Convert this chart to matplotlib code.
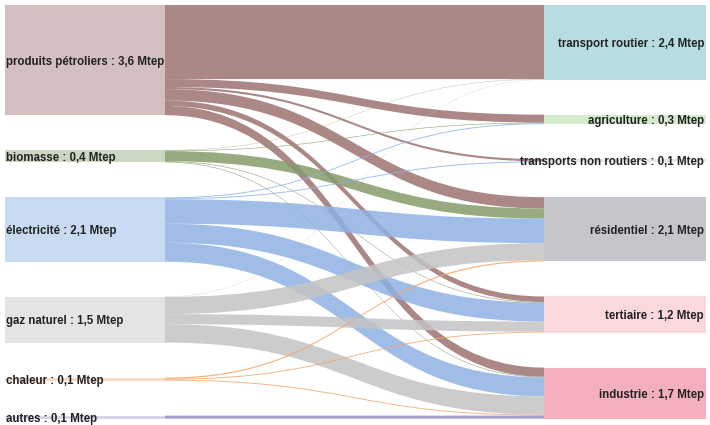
import matplotlib.pyplot as plt
import numpy as np
from matplotlib.path import Path
from matplotlib.patches import PathPatch, Rectangle

sources = ['produits pétroliers', 'biomasse', 'électricité', 'gaz naturel', 'chaleur', 'autres']
source_values = ['3,6', '0,4', '2,1', '1,5', '0,1', '0,1']
targets = ['transport routier', 'agriculture', 'transports non routiers',
           'résidentiel', 'tertiaire', 'industrie']
target_values = ['2,4', '0,3', '0,1', '2,1', '1,2', '1,7']

# flows in Mtep, one list per source, ordered like targets
petrole = [2.42, 0.26, 0.07, 0.37, 0.18, 0.30]
biomasse = [0.01, 0.02, 0.0, 0.33, 0.02, 0.02]
electricite = [0.0, 0.03, 0.03, 0.80, 0.62, 0.62]
gaz = [0.01, 0.0, 0.0, 0.56, 0.33, 0.60]
chaleur = [0.0, 0.0, 0.0, 0.04, 0.03, 0.03]
autres = [0.0, 0.0, 0.0, 0.0, 0.0, 0.10]
flows = np.array([petrole, biomasse, electricite, gaz, chaleur, autres])

src_node_colors = ['#d3bfbf', '#ccd7c3', '#c9dbf2', '#e4e4e4', '#f9dcc6', '#dcd5ea']
link_colors = ['#9c7271', '#869b6a', '#8eb2e2', '#c4c4c4', '#f3a66e', '#9a8cc2']
tgt_node_colors = ['#b7dde3', '#d5ebcd', '#e6e6e6', '#c8c4cb', '#fad8dc', '#f4afbd']

# layout (x in pixels, y in Mtep)
k = 30.6  # px per Mtep
gap = 35 / k
top = 5 / k
xl0, xl1 = 5, 165
xr0, xr1 = 544, 706

src_tot = flows.sum(axis=1)
tgt_tot = flows.sum(axis=0)
src_y = top + np.concatenate([[0], np.cumsum(src_tot + gap)[:-1]])
tgt_y = top + np.concatenate([[0], np.cumsum(tgt_tot + gap)[:-1]])

fig = plt.figure(figsize=(7.1, 4.25), dpi=100)
ax = fig.add_axes([0, 0, 1, 1])
ax.set_xlim(0, 710)
ax.set_ylim(425 / k, 0)
ax.axis('off')

# links
src_off = src_y.copy()
tgt_off = tgt_y.copy()
xm = (xl1 + xr0) / 2
for i in range(len(sources)):
    for j in range(len(targets)):
        v = flows[i, j]
        if v <= 0:
            continue
        y0, y1 = src_off[i], tgt_off[j]
        verts = [(xl1, y0), (xm, y0), (xm, y1), (xr0, y1),
                 (xr0, y1 + v), (xm, y1 + v), (xm, y0 + v), (xl1, y0 + v), (xl1, y0)]
        codes = [Path.MOVETO, Path.CURVE4, Path.CURVE4, Path.CURVE4,
                 Path.LINETO, Path.CURVE4, Path.CURVE4, Path.CURVE4, Path.CLOSEPOLY]
        ax.add_patch(PathPatch(Path(verts, codes), facecolor=link_colors[i],
                               edgecolor='none', alpha=0.85, zorder=1))
        src_off[i] += v
        tgt_off[j] += v

# nodes and labels
font = dict(family='Liberation Sans', fontsize=8.3, fontweight='bold', color='#222222')
for i, name in enumerate(sources):
    ax.add_patch(Rectangle((xl0, src_y[i]), xl1 - xl0, src_tot[i],
                           facecolor=src_node_colors[i], edgecolor='none', zorder=2))
    ax.text(xl0 + 0.5, src_y[i] + src_tot[i] / 2, f'{name} : {source_values[i]} Mtep',
            ha='left', va='center_baseline', zorder=3, **font)
for j, name in enumerate(targets):
    ax.add_patch(Rectangle((xr0, tgt_y[j]), xr1 - xr0, tgt_tot[j],
                           facecolor=tgt_node_colors[j], edgecolor='none', zorder=2))
    ax.text(xr1 - 2, tgt_y[j] + tgt_tot[j] / 2, f'{name} : {target_values[j]} Mtep',
            ha='right', va='center_baseline', zorder=3, **font)

plt.savefig('out.png', dpi=100)
